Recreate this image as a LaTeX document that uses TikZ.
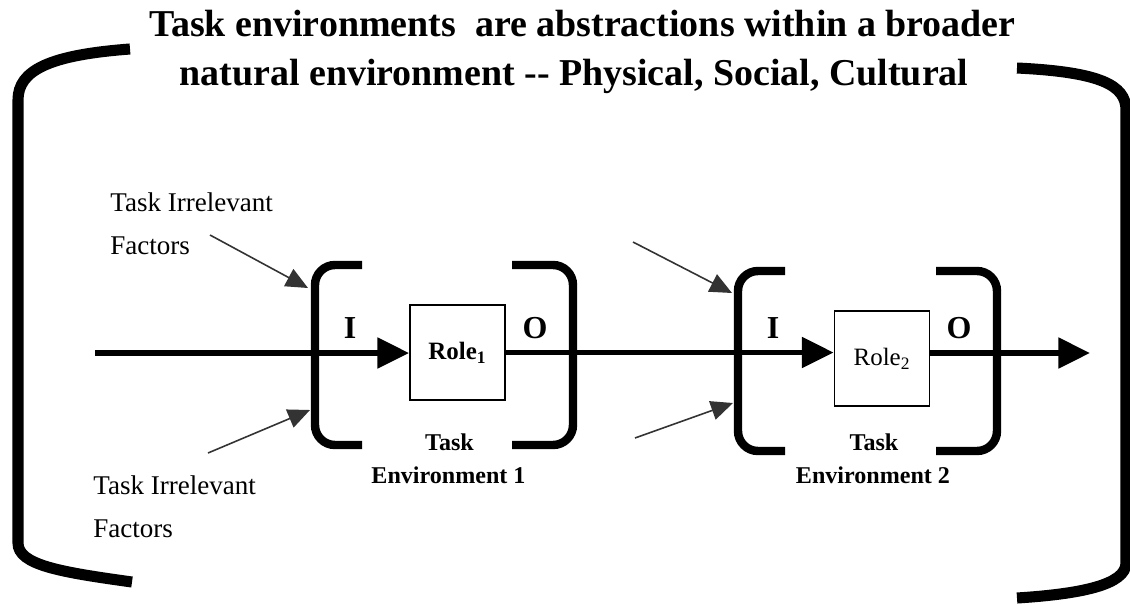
\documentclass[tikz,border=0pt]{standalone}
\usepackage{fontspec}
\setmainfont{Liberation Serif}
\usetikzlibrary{arrows.meta}

\begin{document}
\begin{tikzpicture}[x=0.02cm,y=-0.02cm,
  bigbrk/.style={line width=6.3pt},
  envbrk/.style={line width=4.8pt,rounded corners=0.4cm},
  flow/.style={line width=3.1pt,-{Triangle[length=18pt,width=17pt]}},
  factor/.style={line width=0.9pt,black!80,-{Triangle[length=12.5pt,width=11pt]}},
  rolebox/.style={draw,line width=1.1pt,minimum width=1.9cm,minimum height=1.9cm,inner sep=0pt,font=\fontsize{14.2}{16}\selectfont},
  io/.style={font=\bfseries\fontsize{18.2}{20}\selectfont},
  envlab/.style={font=\bfseries\fontsize{13.7}{15}\selectfont},
  factlab/.style={font=\fontsize{15.4}{24}\selectfont,align=left,inner sep=0pt,anchor=base west},
  headline/.style={font=\bfseries\fontsize{21.6}{26}\selectfont,inner sep=0pt,anchor=base}]
  \path[use as bounding box,fill=white] (0,0) rectangle (1130,603);

  % outer environment
  \node[headline] (head1) at (582.5,36) {Task environments\ \ are abstractions within a broader};
  \node[headline] (head2) at (574,85) {natural environment -{}- Physical, Social, Cultural};
  \draw[bigbrk] (130,49) .. controls (50,55) and (18,70) .. (18,100) -- (18,543)
    .. controls (18,565) and (60,572) .. (132,582);
  \draw[bigbrk] (1017,68) .. controls (1100,72) and (1126,85) .. (1126,110) -- (1126,563)
    .. controls (1126,585) and (1080,594) .. (1017,598);

  % task environments
  \foreach \n/\lx/\rx/\ty/\by/\cx/\cy/\wt in {1/315/573/265/445/457.5/352.5/\bfseries,2/738/997/271/451/882/358.5/\mdseries} {
    \draw[envbrk] ({\lx+47},\ty) -- (\lx,\ty) -- (\lx,\by) -- ({\lx+47},\by);
    \draw[envbrk] ({\rx-61},\ty) -- (\rx,\ty) -- (\rx,\by) -- ({\rx-61},\by);
    \node[rolebox] (role\n) at (\cx,\cy) {\wt Role\textsubscript{\n}};
    \node[io] (in\n) at ({\lx+35},328) {I};
    \node[io] (out\n) at ({\rx-38},328) {O};
    \node[envlab] (task\n) at ({\cx-8},442) {Task};
    \node[envlab] (envname\n) at ({\cx-9},475) {Environment \n};
  }

  % flow through the roles
  \coordinate (src) at (95,353);
  \coordinate (sink) at (1090,353);
  \draw[flow] (src) -- (src -| role1.west);
  \draw[flow] (role1.east) -- (role1.east -| role2.west);
  \draw[flow] (role2.east |- sink) -- (sink);

  % task irrelevant factors
  \foreach \i/\xa/\ya/\xb/\yb in {1/210/235/308/288,2/208/453/310/410,3/633/242/732/293,4/635/438/733/403} {
    \coordinate (fs\i) at (\xa,\ya);
    \coordinate (ft\i) at (\xb,\yb);
    \draw[factor] (fs\i) -- (ft\i);
  }
  \node[factlab] (irrtop) at (110,254) {Task Irrelevant\\Factors};
  \node[factlab] (irrbot) at (93,537) {Task Irrelevant\\Factors};
\end{tikzpicture}
\end{document}
